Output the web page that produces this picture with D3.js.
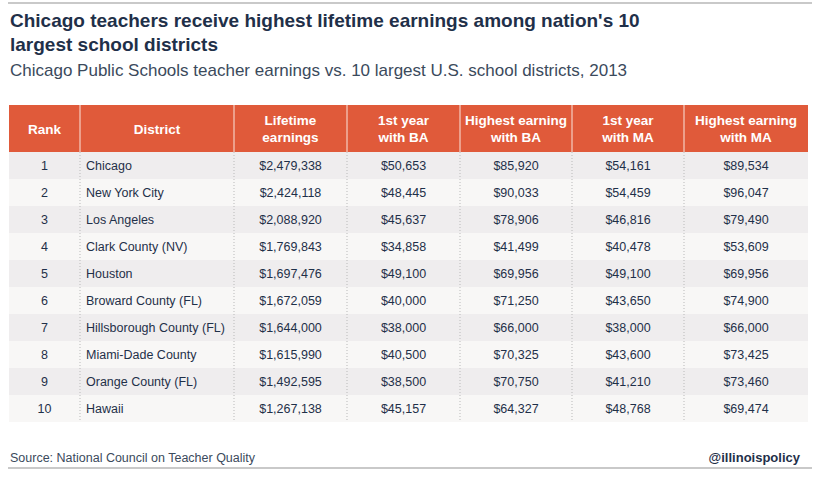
<!DOCTYPE html><html><head><meta charset="utf-8">
<script src="https://d3js.org/d3.v7.min.js"></script>
<style>body{margin:0;background:#fff}text{font-family:"Liberation Sans",Arial,sans-serif}</style></head><body>
<svg id="c" width="820" height="481"></svg>
<script>
const headers=["Rank","District","Lifetime\nearnings","1st year\nwith BA","Highest earning\nwith BA","1st year\nwith MA","Highest earning\nwith MA"];
const ranks=[1,2,3,4,5,6,7,8,9,10];
const districts=["Chicago","New York City","Los Angeles","Clark County (NV)","Houston","Broward County (FL)","Hillsborough County (FL)","Miami-Dade County","Orange County (FL)","Hawaii"];
const lifetime=[2479338,2424118,2088920,1769843,1697476,1672059,1644000,1615990,1492595,1267138];
const firstBA=[50653,48445,45637,34858,49100,40000,38000,40500,38500,45157];
const highBA=[85920,90033,78906,41499,69956,71250,66000,70325,70750,64327];
const firstMA=[54161,54459,46816,40478,49100,43650,38000,43600,41210,48768];
const highMA=[89534,96047,79490,53609,69956,74900,66000,73425,73460,69474];

const svg=d3.select("#c");
const fmt=d3.format("$,");
const navy="#1f3049";
svg.append("line").attr("x1",8).attr("x2",812).attr("y1",3).attr("y2",3).attr("stroke","#c9c9c9").attr("stroke-width",2);
svg.append("text").attr("x",10).attr("y",27).attr("font-size",19).attr("font-weight","bold").attr("fill",navy).text("Chicago teachers receive highest lifetime earnings among nation's 10");
svg.append("text").attr("x",10).attr("y",51).attr("font-size",19).attr("font-weight","bold").attr("fill",navy).text("largest school districts");
svg.append("text").attr("x",10).attr("y",76).attr("font-size",17).attr("fill","#3b4a5c").text("Chicago Public Schools teacher earnings vs. 10 largest U.S. school districts, 2013");

const edges=[9,80,234,347,460,572,684,808];
const x=d3.scaleOrdinal().domain(d3.range(7)).range(edges.slice(0,7));
const w=i=>edges[i+1]-edges[i];
const y=d3.scaleBand().domain(ranks).range([152,422]);
const hy0=105;
svg.append("rect").attr("x",9).attr("y",hy0).attr("width",799).attr("height",152-hy0).attr("fill","#e05a3a");
headers.forEach((h,i)=>{
  if(i>0) svg.append("line").attr("x1",x(i)).attr("x2",x(i)).attr("y1",hy0).attr("y2",152).attr("stroke","#f2b7a7").attr("stroke-width",1.5);
  const lines=h.split("\n");
  const t=svg.append("text").attr("x",x(i)+w(i)/2).attr("text-anchor","middle").attr("fill","#fff").attr("font-size",13.5).attr("font-weight","bold");
  lines.forEach((l,j)=>t.append("tspan").attr("x",x(i)+w(i)/2).attr("y",(hy0+152)/2+5+(j-(lines.length-1)/2)*17).text(l));
});
const rows=ranks.map((r,k)=>[r,districts[k],fmt(lifetime[k]),fmt(firstBA[k]),fmt(highBA[k]),fmt(firstMA[k]),fmt(highMA[k])]);
const g=svg.selectAll("g.r").data(rows).join("g");
g.append("rect").attr("x",9).attr("width",799).attr("y",d=>y(d[0])).attr("height",y.bandwidth()).attr("fill",d=>d[0]%2?"#efedee":"#f8f7f6");
g.each(function(d){
  const s=d3.select(this);
  d.forEach((v,i)=>{
    s.append("text").attr("x",i==1?x(i)+6:x(i)+w(i)/2).attr("text-anchor",i==1?"start":"middle")
      .attr("y",y(d[0])+y.bandwidth()/2+4.5).attr("font-size",12.5).attr("fill",navy).text(v);
  });
});
for(let i=1;i<7;i++) svg.append("line").attr("x1",x(i)).attr("x2",x(i)).attr("y1",152).attr("y2",422).attr("stroke","#b9b9b9").attr("stroke-dasharray","1,2");
svg.append("text").attr("x",10).attr("y",462).attr("font-size",12.5).attr("fill","#3b4a5c").text("Source: National Council on Teacher Quality");
svg.append("text").attr("x",800).attr("y",462).attr("text-anchor","end").attr("font-size",13).attr("font-weight","bold").attr("fill",navy).text("@illinoispolicy");
svg.append("line").attr("x1",8).attr("x2",812).attr("y1",468).attr("y2",468).attr("stroke","#c9c9c9").attr("stroke-width",2);
</script></body></html>
